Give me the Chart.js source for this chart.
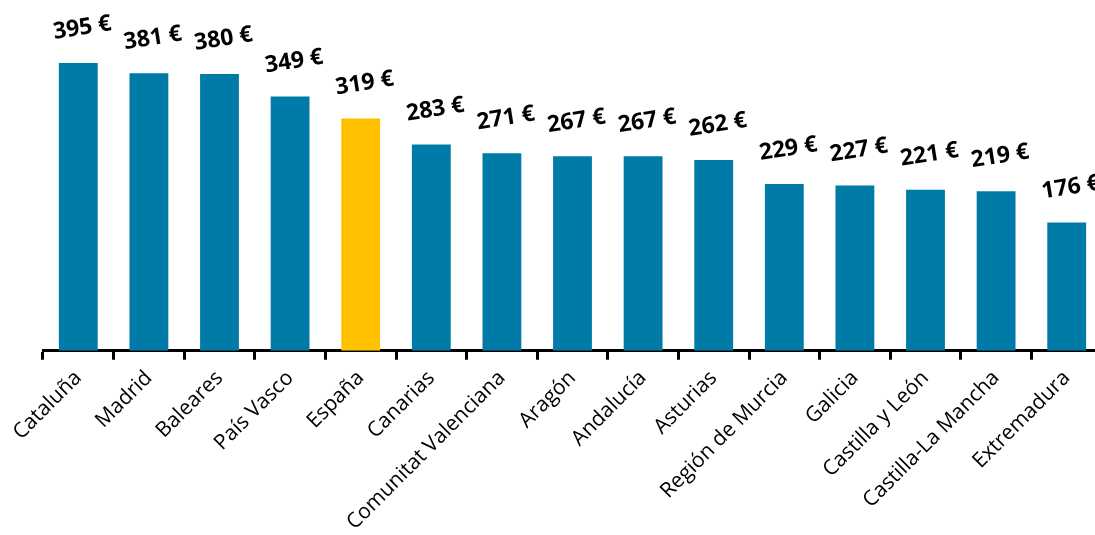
<!DOCTYPE html>
<html>
<head>
<meta charset="utf-8">
<script src="https://cdn.jsdelivr.net/npm/chart.js@4"></script>
<style>
html,body{margin:0;padding:0;background:#fff;overflow:hidden;}
#wrap{width:1095px;height:535px;overflow:hidden;position:relative;}
canvas{position:absolute;left:0;top:0;}
</style>
</head>
<body>
<div id="wrap"><canvas id="c" width="1102" height="541"></canvas></div>
<script>
const categories = ["Cataluña","Madrid","Baleares","País Vasco","España","Canarias","Comunitat Valenciana","Aragón","Andalucía","Asturias","Región de Murcia","Galicia","Castilla y León","Castilla-La Mancha","Extremadura"];
const values = [395,381,380,349,319,283,271,267,267,262,229,227,221,219,176];
const highlight = "España";
const blue = "#007BA7";
const yellow = "#FFC000";
const colors = categories.map(c => c === highlight ? yellow : blue);

const labelPlugin = {
  id: 'valueLabels',
  afterDatasetsDraw(chart) {
    const ctx = chart.ctx;
    const meta = chart.getDatasetMeta(0);
    ctx.save();
    ctx.font = "bold 23px 'Open Sans'";
    ctx.fillStyle = "#000";
    ctx.textAlign = "center";
    ctx.textBaseline = "middle";
    meta.data.forEach((bar, i) => {
      ctx.save();
      ctx.translate(bar.x + 4, bar.y - 35);
      ctx.rotate(-9 * Math.PI / 180);
      ctx.fillText(values[i] + " €", 0, 0);
      ctx.restore();
    });
    ctx.restore();
  }
};

new Chart(document.getElementById('c'), {
  type: 'bar',
  data: {
    labels: categories,
    datasets: [{
      data: values,
      backgroundColor: colors,
      borderWidth: 0,
      barPercentage: 0.55,
      categoryPercentage: 1.0
    }]
  },
  options: {
    responsive: false,
    animation: false,
    devicePixelRatio: 1,
    layout: { padding: { left: 43, right: 0, top: 23, bottom: 0 } },
    plugins: { legend: { display: false }, tooltip: { enabled: false } },
    scales: {
      x: {
        grid: { offset: true, drawOnChartArea: false, drawTicks: true, tickLength: 9, color: '#000', lineWidth: 3 },
        border: { display: true, color: '#000', width: 3 },
        ticks: { color: '#000', font: { family: "'Open Sans'", size: 21 }, maxRotation: 45, minRotation: 45, autoSkip: false, padding: 6 }
      },
      y: {
        display: false,
        min: 0,
        max: 450
      }
    }
  },
  plugins: [labelPlugin]
});
</script>
</body>
</html>
